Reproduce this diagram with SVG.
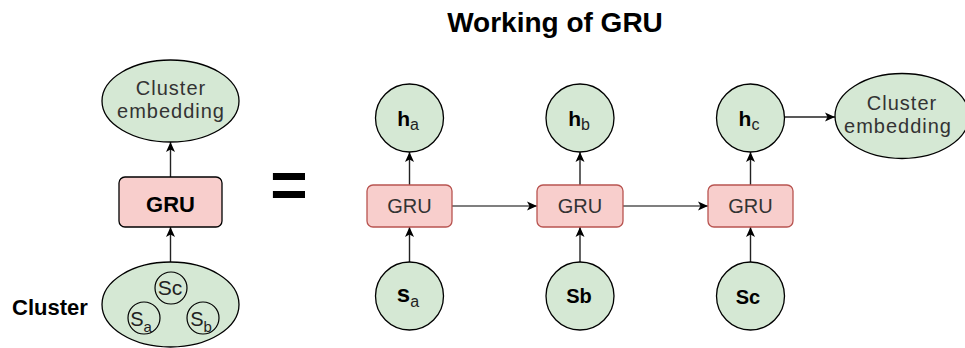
<svg xmlns="http://www.w3.org/2000/svg" width="965" height="348" viewBox="0 0 965 348">
  <defs>
    <marker id="arrow" viewBox="0 0 10 10" refX="10" refY="5" markerWidth="10" markerHeight="10" markerUnits="userSpaceOnUse" orient="auto">
      <path d="M0,0.5 L10,5 L0,9.5 L2.5,5 Z" fill="#000"/>
    </marker>
    <style>
      text { font-family: "Liberation Sans", Arial, Helvetica, sans-serif; }
      .node { fill: #d5e8d4; stroke: #000; stroke-width: 1.3; }
      .gru { fill: #f8cecc; stroke: #b85450; stroke-width: 1.3; }
      .gru-main { fill: #f8cecc; stroke: #000; stroke-width: 1.3; }
      .edge { fill: none; stroke: #222; stroke-width: 1.4; marker-end: url(#arrow); }
      .edge-h { fill: none; stroke: #555; stroke-width: 1.6; marker-end: url(#arrow); }
      .title { font-size: 28px; font-weight: bold; fill: #000; }
      .lbl { font-size: 20px; letter-spacing: 1px; fill: #333; }
      .gru-txt { font-size: 20px; fill: #333; }
      .bold { font-weight: bold; fill: #000; }
      .sub { font-weight: normal; fill: #222; }
    </style>
  </defs>

  <text class="title" x="555" y="32" text-anchor="middle">Working of GRU</text>

  <!-- connectors -->
  <g id="connectors">
    <line class="edge" x1="170.5" y1="262" x2="170.5" y2="227"/>
    <line class="edge" x1="170.5" y1="177" x2="170.5" y2="142"/>
    <line class="edge" x1="409.5" y1="262" x2="409.5" y2="227"/>
    <line class="edge" x1="409.5" y1="185" x2="409.5" y2="152"/>
    <line class="edge" x1="580" y1="262" x2="580" y2="227"/>
    <line class="edge" x1="580" y1="185" x2="580" y2="152"/>
    <line class="edge" x1="750.5" y1="262" x2="750.5" y2="227"/>
    <line class="edge" x1="750.5" y1="185" x2="750.5" y2="152"/>
    <line class="edge-h" x1="452" y1="206" x2="537" y2="206"/>
    <line class="edge-h" x1="623" y1="206" x2="708" y2="206"/>
    <line class="edge" x1="784.5" y1="117" x2="835" y2="117"/>
  </g>

  <!-- left: compact view -->
  <g id="cluster-embedding-left">
    <ellipse class="node" cx="170.5" cy="101" rx="68.5" ry="41"/>
    <text class="lbl" x="171" y="95" text-anchor="middle">Cluster</text>
    <text class="lbl" x="171" y="118" text-anchor="middle">embedding</text>
  </g>
  <g id="gru-main">
    <rect class="gru-main" x="119" y="177" width="103" height="50" rx="6"/>
    <text x="170.5" y="212" text-anchor="middle" font-size="22" class="bold">GRU</text>
  </g>
  <g id="cluster">
    <ellipse class="node" cx="170.5" cy="304.5" rx="68.5" ry="42.5"/>
    <circle cx="171" cy="288" r="16" fill="none" stroke="#000" stroke-width="1.2"/>
    <text x="170" y="295" text-anchor="middle" font-size="21" fill="#222">Sc</text>
    <circle cx="144" cy="318" r="16" fill="none" stroke="#000" stroke-width="1.2"/>
    <text x="141" y="326" text-anchor="middle" font-size="20" fill="#222">S<tspan font-size="15" dy="6">a</tspan></text>
    <circle cx="203" cy="318" r="16" fill="none" stroke="#000" stroke-width="1.2"/>
    <text x="201" y="326" text-anchor="middle" font-size="20" fill="#222">S<tspan font-size="15" dy="6">b</tspan></text>
  </g>
  <text x="12" y="315" font-size="22" class="bold">Cluster</text>

  <text x="289" y="207" text-anchor="middle" font-size="64" class="bold">=</text>

  <!-- right: unrolled steps -->
  <g id="h-a">
    <circle class="node" cx="409.5" cy="118" r="34"/>
    <text x="408" y="126" text-anchor="middle" font-size="21" class="bold">h<tspan class="sub" font-size="16" dy="4">a</tspan></text>
  </g>
  <g id="h-b">
    <circle class="node" cx="580" cy="118" r="34"/>
    <text x="579" y="126" text-anchor="middle" font-size="21" class="bold">h<tspan class="sub" font-size="16" dy="4">b</tspan></text>
  </g>
  <g id="h-c">
    <circle class="node" cx="750.5" cy="118" r="34"/>
    <text x="749" y="126" text-anchor="middle" font-size="21" class="bold">h<tspan class="sub" font-size="16" dy="4">c</tspan></text>
  </g>

  <g id="gru-a">
    <rect class="gru" x="367" y="185" width="85" height="42" rx="6"/>
    <text class="gru-txt" x="409.5" y="213" text-anchor="middle">GRU</text>
  </g>
  <g id="gru-b">
    <rect class="gru" x="537" y="185" width="86" height="42" rx="6"/>
    <text class="gru-txt" x="580" y="213" text-anchor="middle">GRU</text>
  </g>
  <g id="gru-c">
    <rect class="gru" x="708" y="185" width="85" height="42" rx="6"/>
    <text class="gru-txt" x="750.5" y="213" text-anchor="middle">GRU</text>
  </g>

  <g id="s-a">
    <circle class="node" cx="409.5" cy="296" r="34"/>
    <text x="408" y="302" text-anchor="middle" font-size="24" class="bold">s<tspan class="sub" font-size="16" dy="5">a</tspan></text>
  </g>
  <g id="s-b">
    <circle class="node" cx="580" cy="296" r="34"/>
    <text x="579" y="303" text-anchor="middle" font-size="20" class="bold">Sb</text>
  </g>
  <g id="s-c">
    <circle class="node" cx="750.5" cy="296" r="34"/>
    <text x="748" y="304" text-anchor="middle" font-size="20" class="bold">Sc</text>
  </g>

  <g id="cluster-embedding-right">
    <ellipse class="node" cx="902" cy="116" rx="67" ry="42.5"/>
    <text class="lbl" x="902" y="110" text-anchor="middle">Cluster</text>
    <text class="lbl" x="898" y="133" text-anchor="middle">embedding</text>
  </g>
</svg>
